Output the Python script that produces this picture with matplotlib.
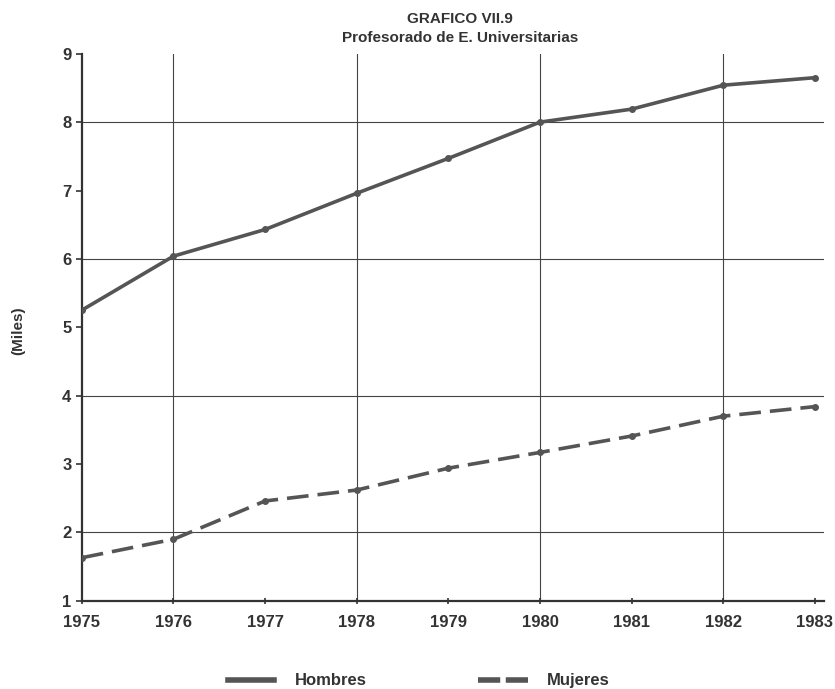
import matplotlib.pyplot as plt

# data (miles)
years = [1975, 1976, 1977, 1978, 1979, 1980, 1981, 1982, 1983]
hombres = [5.25, 6.04, 6.43, 6.96, 7.47, 8.0, 8.19, 8.54, 8.65]
mujeres = [1.63, 1.90, 2.46, 2.62, 2.94, 3.17, 3.41, 3.70, 3.84]
grid_years = [1976, 1978, 1980, 1982]
grid_vals = [2, 4, 6, 8]

plt.rcParams['font.family'] = ['Liberation Sans Narrow', 'Liberation Sans', 'DejaVu Sans']
plt.rcParams['font.weight'] = 'bold'

fig = plt.figure(figsize=(8.35, 6.89), dpi=100)
ax = fig.add_axes([0.098, 0.128, 0.889, 0.794])

col = '#555555'
for g in grid_years:
    ax.axvline(g, color='#444444', lw=0.8, zorder=1)
for g in grid_vals:
    ax.axhline(g, color='#444444', lw=0.8, zorder=1)

ax.plot(years, hombres, color=col, lw=2.6, marker='o', ms=4, zorder=3)
ax.plot(years, mujeres, color=col, lw=2.6, marker='o', ms=4, dashes=(6, 2.5), zorder=3)

ax.set_xlim(1975, 1983.1)
ax.set_ylim(1, 9)
ax.set_xticks(years)
ax.set_yticks(range(1, 10))
ax.tick_params(axis='both', labelsize=12, colors='#333333', width=1.2, length=4)
ax.tick_params(axis='x', direction='inout', pad=8)
for s in ['top', 'right']:
    ax.spines[s].set_visible(False)
for s in ['left', 'bottom']:
    ax.spines[s].set_linewidth(1.6)
    ax.spines[s].set_color('#333333')

fig.text(0.551, 0.972, 'GRAFICO VII.9', ha='center', va='center', fontsize=11, weight='bold', color='#333333')
fig.text(0.551, 0.945, 'Profesorado de E. Universitarias', ha='center', va='center', fontsize=11, weight='bold', color='#333333')
fig.text(0.022, 0.52, '(Miles)', rotation=90, ha='center', va='center', fontsize=11, weight='bold', color='#333333')

# legend drawn below the axes
fig.add_artist(plt.Line2D([0.273, 0.328], [0.013, 0.013], color=col, lw=4, transform=fig.transFigure))
fig.text(0.353, 0.013, 'Hombres', ha='left', va='center', fontsize=12, weight='bold', color='#333333')
fig.add_artist(plt.Line2D([0.573, 0.633], [0.013, 0.013], color=col, lw=4, dashes=(4, 1), transform=fig.transFigure))
fig.text(0.655, 0.013, 'Mujeres', ha='left', va='center', fontsize=12, weight='bold', color='#333333')

fig.savefig('out.png')
